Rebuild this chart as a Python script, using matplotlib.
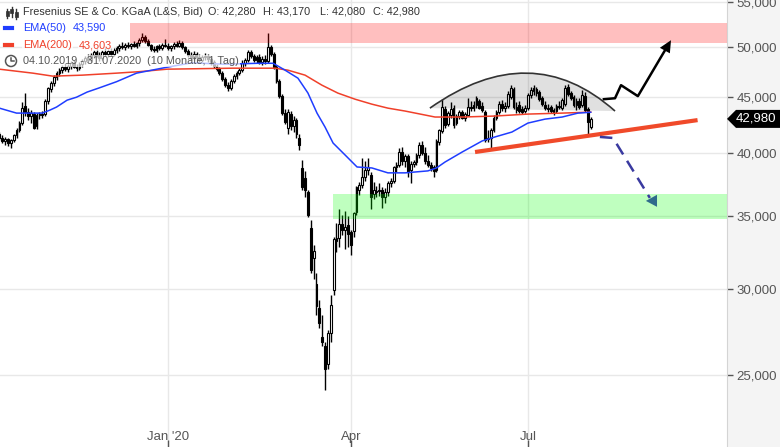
import matplotlib
matplotlib.use("Agg")
import matplotlib.pyplot as plt
import matplotlib.transforms as mtransforms
from matplotlib.patches import Rectangle, Polygon, PathPatch, Circle
from matplotlib.path import Path
from matplotlib.lines import Line2D
from matplotlib.ticker import FixedLocator, NullLocator, FuncFormatter

plt.rcParams['font.family'] = ['Liberation Sans', 'DejaVu Sans']

# ---------------- data (EUR thousands, daily candles 04.10.2019 - 31.07.2020) -------------
opens = [41.6,41.3,41.0,41.2,40.8,41.1,41.5,42.0,42.6,44.2,
         43.6,43.2,43.4,42.3,43.3,43.4,43.4,44.6,45.8,46.4,
         47.0,47.4,47.7,48.0,47.8,48.1,48.4,48.0,47.9,48.3,
         48.6,48.9,48.7,49.2,49.5,49.2,48.9,49.5,49.3,49.6,
         49.3,49.7,49.9,50.2,50.0,50.3,50.1,50.4,50.2,50.5,
         50.8,51.1,50.7,50.3,49.8,49.7,50.1,49.9,50.3,50.2,
         49.9,50.1,50.4,50.2,50.5,50.0,49.6,49.2,48.9,49.3,
         49.0,48.7,49.0,49.1,48.8,48.5,48.1,47.8,47.4,46.8,
         46.2,45.9,46.6,47.1,47.4,47.7,48.4,48.7,49.5,49.1,
         48.7,49.0,48.5,48.8,48.6,50.0,49.3,48.0,46.6,45.1,
         43.5,42.2,43.4,42.3,42.9,41.3,38.7,37.9,36.8,34.1,
         32.0,30.3,28.8,27.1,26.6,25.6,27.3,29.9,33.2,33.4,
         34.4,34.0,34.3,33.8,33.9,35.3,37.0,37.4,38.0,38.6,
         38.2,36.7,36.8,36.9,37.0,36.4,36.8,37.5,37.7,38.8,
         39.0,40.1,39.3,39.7,38.6,39.1,39.2,39.8,40.7,40.0,
         39.3,39.0,38.8,38.6,40.9,41.9,43.9,42.5,43.3,44.0,
         42.6,43.2,43.6,43.1,43.3,44.1,44.0,44.3,44.6,44.2,
         43.6,41.2,41.3,42.0,43.1,43.6,44.4,44.0,44.2,45.0,
         45.8,44.1,44.3,43.9,43.7,44.0,45.2,45.6,45.8,45.5,
         44.9,44.3,44.0,44.1,43.8,43.7,44.2,44.0,44.4,46.0,
         45.4,45.0,44.3,44.6,44.3,45.1,43.9,42.28]
highs = [41.8,41.5,41.4,41.3,41.2,41.6,42.2,42.8,44.5,45.4,
         44.0,43.8,43.6,43.5,43.6,43.7,44.8,46.0,46.6,47.2,
         47.6,47.9,48.2,48.4,48.3,48.6,48.7,48.3,48.5,48.8,
         49.1,49.3,49.4,49.7,49.8,49.5,49.7,49.9,49.8,49.9,
         49.9,50.1,50.4,50.6,50.5,50.6,50.5,50.7,50.6,51.0,
         51.6,51.3,50.9,50.4,50.1,50.3,50.4,50.5,50.9,50.5,
         50.3,50.6,50.7,50.8,50.7,50.2,49.8,49.5,49.6,49.5,
         49.3,49.2,49.4,49.3,49.0,48.7,48.3,48.0,47.6,47.0,
         46.5,46.8,47.3,47.6,47.9,48.7,48.9,49.7,49.7,49.3,
         49.2,49.3,49.1,49.2,51.6,50.3,49.5,48.2,46.8,45.3,
         43.9,43.9,43.7,43.2,43.1,41.6,39.4,38.5,37.0,34.7,
         32.9,31.0,29.3,28.4,26.8,27.5,29.6,33.5,34.5,35.5,
         35.1,35.4,35.0,34.0,35.3,37.3,37.6,39.6,39.3,39.6,
         38.4,37.6,37.3,37.5,37.2,37.1,37.7,37.9,38.9,39.2,
         40.4,40.5,39.9,39.9,39.3,39.4,40.0,40.9,41.0,40.5,
         39.8,39.2,39.0,41.2,42.1,44.8,44.2,43.7,44.5,44.3,
         43.4,43.8,43.8,43.6,44.9,44.6,44.6,45.1,44.8,44.5,
         43.8,42.0,42.2,43.3,43.8,44.6,44.7,44.5,45.6,46.2,
         46.0,44.5,44.6,44.2,44.3,45.4,46.0,46.2,46.0,45.7,
         45.1,44.6,44.4,44.3,44.0,44.4,44.6,44.9,46.2,46.3,
         45.6,45.2,44.9,44.9,45.7,45.5,44.1,43.17]
lows = [41.1,40.8,40.7,40.6,40.4,40.9,41.3,41.8,42.4,43.2,
        42.9,42.6,42.1,42.1,43.0,43.1,43.2,44.4,45.5,46.1,
        46.7,47.1,47.4,47.6,47.5,47.8,47.9,47.6,47.7,48.0,
        48.3,48.5,48.5,48.9,49.0,48.6,48.7,49.1,49.0,49.1,
        49.1,49.4,49.6,49.8,49.7,49.9,49.8,50.0,49.9,50.2,
        50.6,50.5,50.1,49.6,49.5,49.5,49.7,49.7,50.0,49.7,
        49.6,49.8,50.0,50.0,49.8,49.4,49.0,48.7,48.7,48.8,
        48.4,48.5,48.7,48.5,48.2,47.9,47.6,47.2,46.6,46.0,
        45.6,45.7,46.4,46.8,47.2,47.5,48.1,48.5,48.9,48.5,
        48.4,48.3,48.2,48.3,48.4,49.1,47.8,46.4,44.9,43.3,
        42.5,41.6,42.0,41.8,41.3,40.2,37.0,36.4,34.9,31.0,
        30.6,28.4,27.6,26.6,24.2,25.3,26.8,29.6,32.4,32.8,
        33.6,32.6,32.8,32.2,33.5,35.1,36.6,37.1,37.7,38.2,
        35.5,36.3,36.4,36.5,35.6,36.0,36.5,37.2,37.5,38.4,
        38.8,39.0,38.8,38.0,37.5,38.8,39.0,39.6,39.8,39.1,
        38.8,38.5,38.0,38.4,40.7,41.7,42.2,42.3,43.1,42.2,
        42.4,43.0,43.0,42.8,43.2,43.7,43.7,44.0,43.9,43.6,
        40.9,40.9,40.4,41.8,42.9,43.4,43.7,43.6,44.0,44.8,
        43.9,43.5,43.5,43.4,43.5,43.8,44.9,45.2,45.1,44.6,
        44.2,43.8,43.6,43.5,43.3,43.5,43.9,43.8,44.2,45.1,
        44.7,44.1,43.8,43.9,44.1,43.6,41.5,42.08]
closes = [41.3,41.0,41.2,40.8,41.1,41.5,42.0,42.6,44.0,43.6,
          43.2,43.5,42.2,43.3,43.4,43.3,44.6,45.9,46.4,47.0,
          47.4,47.7,48.0,47.8,48.1,48.4,48.0,47.9,48.3,48.6,
          48.9,48.7,49.2,49.5,49.2,48.9,49.5,49.3,49.6,49.3,
          49.7,49.9,50.2,50.0,50.3,50.1,50.4,50.2,50.5,50.8,
          51.1,50.7,50.3,49.8,49.7,50.1,49.9,50.3,50.2,49.9,
          50.1,50.4,50.2,50.5,50.0,49.6,49.2,48.9,49.3,49.0,
          48.7,49.0,49.1,48.8,48.5,48.1,47.8,47.4,46.8,46.2,
          45.9,46.6,47.1,47.4,47.7,48.4,48.7,49.5,49.1,48.7,
          49.0,48.5,48.8,48.6,50.0,49.3,48.0,46.6,45.1,43.5,
          42.7,43.6,42.3,42.9,41.6,40.7,37.2,37.0,35.1,31.2,
          32.5,28.9,27.9,26.8,25.3,27.3,29.0,33.3,33.4,34.4,
          34.0,34.2,33.7,32.9,35.2,37.2,37.4,38.0,38.6,38.8,
          36.4,37.0,36.9,37.0,36.4,36.8,37.5,37.7,38.8,39.0,
          40.1,39.3,39.7,38.4,39.1,39.2,39.8,40.7,40.0,39.3,
          39.0,38.7,38.5,41.0,42.0,44.1,42.4,43.5,43.9,42.4,
          43.2,43.6,43.1,43.4,44.1,44.0,44.3,44.9,44.0,43.8,
          41.1,41.3,42.0,43.1,43.6,44.4,44.0,44.2,45.3,45.9,
          44.1,43.8,43.7,43.6,44.0,45.2,45.7,45.9,45.4,44.8,
          44.4,44.0,43.9,43.7,43.6,44.2,44.1,44.7,45.9,45.3,
          44.9,44.3,44.6,44.1,45.2,43.8,42.7,42.98]

# moving averages (bar index, EUR thousands)
ema50_idx = [0, 6, 15, 17.7, 20, 23.7, 27, 30.7, 35, 41, 48, 58.7, 67.4, 79, 90.5, 95.8, 100,
             104.5, 106.3, 108, 111.2, 114, 116.8, 121, 125.2, 130.4, 136, 142, 150, 153, 156,
             162, 169, 173.5, 179.4, 185, 191, 197, 202.5, 207]
ema50_val = [43.97, 43.51, 43.51, 43.79, 44.07, 44.72, 45.0, 45.49, 45.9, 46.5, 47.35, 47.95, 48.4,
             48.25, 48.35, 48.35, 47.65, 46.85, 46.1, 45.4, 43.5, 42.24, 40.84, 39.82, 38.82,
             38.74, 38.34, 38.34, 38.5, 38.74, 39.23, 40.07, 41.02, 41.37, 41.8, 42.6, 42.96,
             43.15, 43.51, 43.59]
ema200_idx = [0, 11.7, 18.7, 29, 41, 49, 58.7, 81.8, 96.5, 101, 107, 112.9, 118.5, 124.5, 130.4,
              136, 142, 152.5, 162, 173.5, 185, 197, 207]
ema200_val = [47.75, 47.35, 47.05, 47.15, 47.35, 47.5, 47.75, 47.85, 47.85, 47.65, 47.15, 46.16,
              45.39, 44.81, 44.34, 43.97, 43.7, 43.15, 43.15, 43.24, 43.42, 43.51, 43.60]

xtick_idx = [59, 123, 185]
xtick_labels = ["Jan '20", "Apr", "Jul"]
ytick_vals = [25000, 30000, 35000, 40000, 45000, 50000, 55000]

# analyst drawings (bar index, EUR)
pink_zone = (45.7, 50460, 52640)
green_zone = (116.8, 34790, 36680)
dome_pts = [(150.7, 43970), (186.2, 51160), (215.5, 43700)]
support_pts = [(166.5, 40070), (244.4, 42870)]
bear_x = [210.2, 214.8, 227.7]
bear_y = [41370, 41280, 36360]
bear_head = [(226.3, 36130), (230.2, 36600), (230.2, 35680)]
bull_x = [211.6, 215.5, 217.6, 223.5, 233.0]
bull_y = [44810, 44900, 46160, 45100, 49700]
bull_head = [(235.1, 50770), (234.7, 49380), (231.2, 49960)]

title_txt = "Fresenius SE & Co. KGaA (L&S, Bid)"
ohlc_txt = ["O: 42,280", "H: 43,170", "L: 42,080", "C: 42,980"]
ema50_txt = ("EMA(50)", "43,590")
ema200_txt = ("EMA(200)", "43,603")
range_txt = "04.10.2019 - 31.07.2020  (10 Monate, 1 Tag)"

# ---------------- figure -------------
W, H = 780, 447
AXW = 727
fig = plt.figure(figsize=(W / 100, H / 100), dpi=100, facecolor='#f4f4f4')
ax = fig.add_axes([0, 0, AXW / W, 1])
ax.set_facecolor('white')
ax.set_yscale('log')
ax.set_xlim(0.21, 254.7)
ax.set_ylim(21460, 55280)

# grid
ax.yaxis.set_major_locator(FixedLocator(ytick_vals))
ax.yaxis.set_minor_locator(NullLocator())
ax.yaxis.set_major_formatter(FuncFormatter(lambda v, p: f"{int(v):,}"))
ax.set_xticks(xtick_idx)
ax.set_xticklabels([''] * len(xtick_idx))
ax.grid(True, color='#e8e8e8', lw=1, zorder=0)
ax.set_axisbelow(True)
for s in ['top', 'left', 'bottom']:
    ax.spines[s].set_visible(False)
ax.spines['right'].set_color('#d4d4d4')
ax.yaxis.tick_right()
ax.tick_params(axis='y', which='major', length=4, width=1, color='#555555', pad=3,
               labelsize=9.5, labelcolor='#555555')
ax.tick_params(axis='x', which='major', direction='in', length=5, width=1, color='#555555')

# candles
xs = list(range(len(closes)))
o = [v * 1000 for v in opens]
h = [v * 1000 for v in highs]
l = [v * 1000 for v in lows]
c = [v * 1000 for v in closes]
ax.vlines(xs, l, h, color='black', lw=1, zorder=3)
bot = [min(a, b) for a, b in zip(o, c)]
hgt = [max(abs(b - a), 15) for a, b in zip(o, c)]
fcol = ['white' if b >= a else 'black' for a, b in zip(o, c)]
ax.bar(xs, hgt, bottom=bot, width=0.62, color=fcol, edgecolor='black', linewidth=0.8, zorder=4)

# EMAs
ax.plot(ema200_idx, [v * 1000 for v in ema200_val], color='#f0402a', lw=1.1, zorder=5)
ax.plot(ema50_idx, [v * 1000 for v in ema50_val], color='#1f3dff', lw=1.1, zorder=5)

# zones
x1 = ax.get_xlim()[1]
ax.add_patch(Rectangle((pink_zone[0], pink_zone[1]), x1 - pink_zone[0], pink_zone[2] - pink_zone[1],
                       facecolor='red', alpha=0.25, lw=0, zorder=6))
ax.add_patch(Rectangle((green_zone[0], green_zone[1]), x1 - green_zone[0], green_zone[2] - green_zone[1],
                       facecolor='#00ff00', alpha=0.25, lw=0, zorder=6))

# dome
arc = Path(dome_pts, [Path.MOVETO, Path.CURVE3, Path.CURVE3])
fillp = Path(dome_pts + [dome_pts[0]], [Path.MOVETO, Path.CURVE3, Path.CURVE3, Path.CLOSEPOLY])
ax.add_patch(PathPatch(fillp, facecolor='black', alpha=0.12, lw=0, zorder=6))
ax.add_patch(PathPatch(arc, facecolor='none', edgecolor='#333333', lw=1.2, zorder=7))

# support line
ax.plot([p[0] for p in support_pts], [p[1] for p in support_pts], color='#f04a2a', lw=3,
        solid_capstyle='butt', zorder=7)
# bearish path
ax.plot(bear_x, bear_y, color='#3a3aa0', lw=1.8, dashes=(5, 3), zorder=7)
ax.add_patch(Polygon(bear_head, closed=True, facecolor='#2f6b8c', edgecolor='none', zorder=8))
# bullish path
ax.plot(bull_x, bull_y, color='black', lw=1.8, zorder=7)
ax.add_patch(Polygon(bull_head, closed=True, facecolor='black', edgecolor='none', zorder=8))

# x labels inside plot
for xi, lab in zip(xtick_idx, xtick_labels):
    ax.text(xi, 10 / H, lab, transform=mtransforms.blended_transform_factory(ax.transData, ax.transAxes),
            ha='center', va='center', fontsize=9.5, color='#555555', zorder=10)

# legend block (pixel coords from top-left of axes)
px = mtransforms.Affine2D().scale(1 / AXW, -1 / H).translate(0, 1) + ax.transAxes
bb = dict(facecolor='white', alpha=0.7, edgecolor='none', pad=1.0)
fs = 7.8
ax.text(23, 12, title_txt, transform=px, fontsize=fs, color='#333333', va='center', ha='left', zorder=20)
for xo, t in zip([208, 263, 320, 373], ohlc_txt):
    ax.text(xo, 12, t, transform=px, fontsize=fs, color='#333333', va='center', ha='left', zorder=20)
ax.text(23, 28, ema50_txt[0], transform=px, fontsize=fs, color='#1f3dff', va='center', ha='left',
        bbox=bb, zorder=20)
ax.text(73, 28, ema50_txt[1], transform=px, fontsize=fs, color='#1f3dff', va='center', ha='left',
        bbox=bb, zorder=20)
ax.text(23, 45, ema200_txt[0], transform=px, fontsize=fs, color='#f0402a', va='center', ha='left',
        bbox=bb, zorder=20)
ax.text(79, 45, ema200_txt[1], transform=px, fontsize=fs, color='#f0402a', va='center', ha='left',
        bbox=bb, zorder=20)
ax.text(23, 61, range_txt, transform=px, fontsize=fs, color='#555555', va='center', ha='left',
        bbox=bb, zorder=20)
# legend markers / icons
ax.add_line(Line2D([5, 12], [28, 28], transform=px, color='#1f3dff', lw=3, zorder=21))
ax.add_line(Line2D([5, 12], [45, 45], transform=px, color='#f0402a', lw=3, zorder=21))
ax.add_patch(Circle((11, 61), 5.5, transform=px, facecolor='none', edgecolor='#555555', lw=1.1, zorder=21))
ax.add_line(Line2D([11, 11, 14], [57.5, 61, 61], transform=px, color='#555555', lw=1.1, zorder=21))
for cx, top, bt, y0, y1 in [(7, 9, 18, 11, 16), (11.5, 7, 17, 9, 13), (16, 9, 19, 12, 17)]:
    ax.add_line(Line2D([cx, cx], [top, bt], transform=px, color='#333333', lw=1, zorder=21))
    ax.add_patch(Rectangle((cx - 1.5, y0), 3, y1 - y0, transform=px, facecolor='#333333',
                           edgecolor='#333333', lw=0.5, zorder=21))

# current price label on the right axis
fig.canvas.draw()
yd = ax.transData.transform((0, c[-1]))[1]
ident = mtransforms.IdentityTransform()
verts = [(AXW, yd), (AXW + 9, yd + 9), (W, yd + 9), (W, yd - 9), (AXW + 9, yd - 9)]
fig.add_artist(Polygon(verts, closed=True, facecolor='black', edgecolor='none', transform=ident, zorder=30))
fig.text(756, yd, f"{c[-1]:,.0f}", transform=ident, color='white', fontsize=9.5, ha='center',
         va='center', zorder=31)

fig.savefig('out.png', dpi=100, facecolor=fig.get_facecolor())
